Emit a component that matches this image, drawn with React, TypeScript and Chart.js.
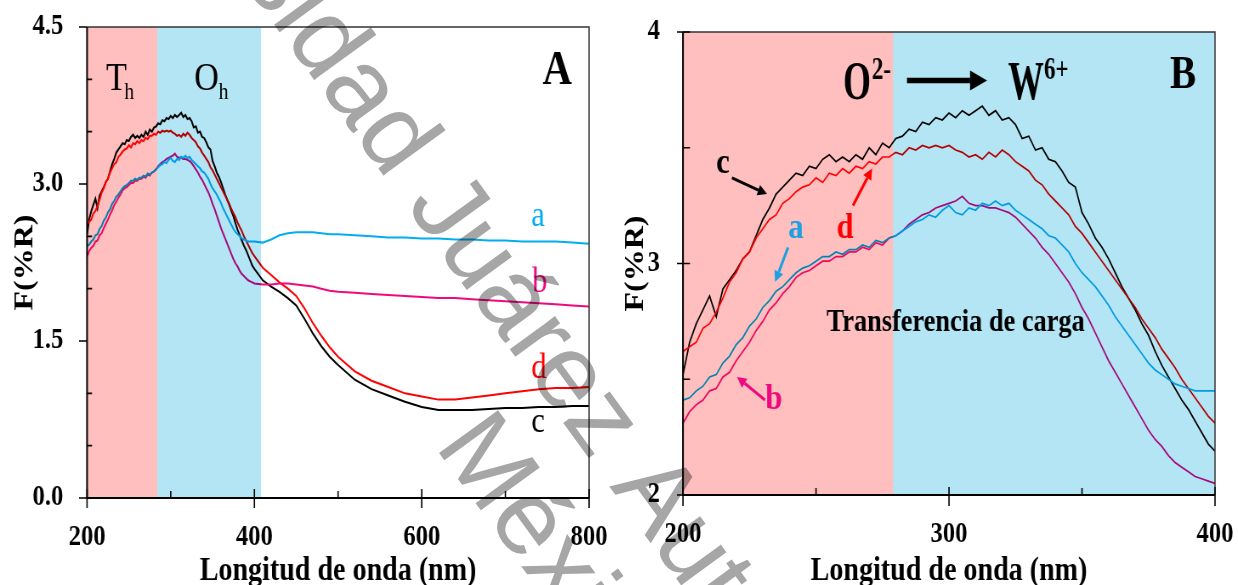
import React, { useEffect, useRef } from 'react';
import { Chart, registerables } from 'chart.js';
Chart.register(...registerables);

const SX = 0.85;
const FONT = "'Liberation Serif', 'Times New Roman', serif";

// ---- data (nm, F(%R)) ----
const wlB = [200,202.5,205,207.5,210,212.5,215,217.5,220,222.5,225,227.5,230,232.5,235,237.5,240,242.5,245,247.5,250,252.5,255,257.5,260,262.5,265,267.5,270,272.5,275,277.5,280,282.5,285,287.5,290,292.5,295,297.5,300,302.5,305,307.5,310,312.5,315,317.5,320,322.5,325,327.5,330,332.5,335,337.5,340,342.5,345,347.5,350,352.5,355,357.5,360,362.5,365,367.5,370,372.5,375,377.5,380,382.5,385,387.5,390,392.5,395,397.5,400];
const aB = [2.41,2.42,2.45,2.47,2.51,2.52,2.57,2.60,2.65,2.68,2.73,2.76,2.81,2.84,2.88,2.90,2.93,2.96,2.98,2.99,3.01,3.03,3.03,3.05,3.04,3.06,3.06,3.08,3.07,3.10,3.09,3.11,3.12,3.14,3.16,3.18,3.19,3.21,3.20,3.23,3.25,3.22,3.21,3.24,3.23,3.26,3.25,3.27,3.25,3.26,3.23,3.21,3.19,3.17,3.15,3.12,3.11,3.08,3.05,3.00,2.96,2.93,2.90,2.86,2.82,2.77,2.73,2.69,2.65,2.61,2.57,2.54,2.52,2.50,2.48,2.47,2.46,2.45,2.45,2.45,2.45];
const bB = [2.31,2.36,2.39,2.41,2.45,2.46,2.51,2.53,2.58,2.62,2.66,2.71,2.75,2.80,2.83,2.87,2.90,2.94,2.96,2.97,2.99,3.01,3.01,3.03,3.03,3.05,3.05,3.07,3.06,3.09,3.08,3.11,3.12,3.14,3.17,3.19,3.21,3.22,3.24,3.25,3.26,3.27,3.29,3.26,3.25,3.25,3.24,3.24,3.23,3.22,3.20,3.17,3.14,3.11,3.07,3.04,3.00,2.96,2.92,2.87,2.81,2.76,2.70,2.64,2.58,2.53,2.48,2.43,2.38,2.33,2.28,2.24,2.21,2.17,2.14,2.12,2.10,2.08,2.07,2.06,2.05];
const cB = [2.52,2.66,2.74,2.80,2.86,2.77,2.89,2.93,2.97,3.02,3.05,3.12,3.19,3.24,3.30,3.33,3.36,3.39,3.38,3.42,3.41,3.45,3.47,3.44,3.46,3.44,3.47,3.45,3.50,3.47,3.52,3.50,3.54,3.55,3.58,3.57,3.61,3.60,3.63,3.62,3.65,3.63,3.66,3.64,3.66,3.68,3.64,3.66,3.62,3.63,3.60,3.54,3.55,3.49,3.50,3.45,3.44,3.40,3.35,3.33,3.22,3.17,3.11,3.07,3.02,2.96,2.90,2.85,2.80,2.74,2.69,2.62,2.56,2.51,2.46,2.41,2.37,2.32,2.27,2.22,2.19];
const dB = [2.62,2.64,2.66,2.72,2.74,2.79,2.85,2.92,2.96,3.02,3.05,3.11,3.15,3.19,3.21,3.26,3.28,3.31,3.33,3.34,3.37,3.35,3.39,3.38,3.41,3.39,3.42,3.41,3.44,3.43,3.46,3.46,3.48,3.47,3.50,3.49,3.51,3.50,3.51,3.50,3.51,3.49,3.48,3.46,3.47,3.45,3.48,3.46,3.49,3.47,3.44,3.42,3.40,3.36,3.34,3.30,3.27,3.24,3.21,3.16,3.13,3.09,3.05,3.01,2.97,2.93,2.89,2.85,2.81,2.76,2.72,2.68,2.63,2.59,2.55,2.50,2.46,2.42,2.38,2.34,2.31];

const wlExt = [410,420,430,440,450,460,470,480,490,500,520,540,560,580,600,620,640,660,680,700,720,740,760,780,800];
const aExt = [2.44,2.47,2.51,2.53,2.54,2.54,2.54,2.53,2.52,2.52,2.51,2.50,2.49,2.49,2.48,2.48,2.47,2.47,2.46,2.46,2.45,2.45,2.45,2.44,2.43];
const bExt = [2.04,2.04,2.05,2.05,2.04,2.03,2.02,2.00,1.98,1.97,1.96,1.95,1.94,1.93,1.92,1.91,1.91,1.90,1.89,1.88,1.87,1.86,1.85,1.84,1.83];
const cExt = [2.08,2.02,1.97,1.91,1.84,1.71,1.57,1.45,1.35,1.27,1.13,1.04,0.98,0.92,0.87,0.84,0.84,0.84,0.85,0.86,0.86,0.87,0.87,0.88,0.88];
const dExt = [2.20,2.13,2.06,2.00,1.93,1.81,1.67,1.55,1.44,1.35,1.21,1.12,1.06,1.00,0.97,0.94,0.94,0.96,0.98,1.00,1.02,1.04,1.05,1.05,1.06];

const xMajorA = [200,400,600,800];
const xMinorA = [300,500,700];
const yMajorA = [0,1.5,3,4.5];
const yMinorA = [0.5,1,2,2.5,3.5,4];
const xMajorB = [200,300,400];
const xMinorB = [250,350];
const yMajorB = [2,3,4];
const yMinorB = [2.5,3.5];

const bandsA = [{ from: 200, to: 284, color: '#FFBFBF' }, { from: 284, to: 408, color: '#B3E5F5' }];
const bandsB = [{ from: 200, to: 279, color: '#FFBFBF' }, { from: 279, to: 400, color: '#B3E5F5' }];

const colA = '#00AEEF';
const colB = '#EE0A7E';
const colC = '#000000';
const colD = '#FF0000';

const xy = (xs: number[], ys: number[]) => xs.map((x, i) => ({ x, y: ys[i] }));

function txt(ctx: CanvasRenderingContext2D, s: string, x: number, y: number, font: string, color: string, align: CanvasTextAlign = 'left', sx = 1) {
  ctx.save();
  ctx.translate(x, y);
  ctx.scale(sx, 1);
  ctx.font = font;
  ctx.fillStyle = color;
  ctx.textAlign = align;
  ctx.textBaseline = 'alphabetic';
  ctx.fillText(s, 0, 0);
  ctx.restore();
}

function arrow(ctx: CanvasRenderingContext2D, x1: number, y1: number, x2: number, y2: number, color: string, lw: number, hl: number, hw: number) {
  const ang = Math.atan2(y2 - y1, x2 - x1);
  const bx = x2 - hl * Math.cos(ang), by = y2 - hl * Math.sin(ang);
  ctx.save();
  ctx.strokeStyle = color; ctx.fillStyle = color; ctx.lineWidth = lw;
  ctx.beginPath(); ctx.moveTo(x1, y1); ctx.lineTo(bx, by); ctx.stroke();
  ctx.beginPath();
  ctx.moveTo(x2, y2);
  ctx.lineTo(bx + hw / 2 * Math.sin(ang), by - hw / 2 * Math.cos(ang));
  ctx.lineTo(bx - hw / 2 * Math.sin(ang), by + hw / 2 * Math.cos(ang));
  ctx.closePath(); ctx.fill();
  ctx.restore();
}

type Panel = {
  bands: { from: number; to: number; color: string }[];
  xMajor: number[]; xMinor: number[]; yMajor: number[]; yMinor: number[];
  yTitleX: number; xTitleY: number;
  tick: { xUp: number; xDown: number; xMinorUp: number; yOut: number; yIn: number; yMinorIn: number };
  annotate: (ctx: CanvasRenderingContext2D, px: (v: number) => number, py: (v: number) => number) => void;
};

function panelPlugin(p: Panel) {
  return {
    id: 'panelDeco',
    afterDatasetsDraw(chart: any) {
      const { ctx, chartArea: ca, scales } = chart;
      ctx.save();
      ctx.globalCompositeOperation = 'multiply';
      for (const b of p.bands) {
        const x1 = scales.x.getPixelForValue(b.from);
        const x2 = scales.x.getPixelForValue(b.to);
        ctx.fillStyle = b.color;
        ctx.fillRect(x1, ca.top, x2 - x1, ca.bottom - ca.top);
      }
      ctx.restore();
    },
    afterDraw(chart: any) {
      const { ctx, chartArea: ca, scales } = chart;
      const px = (v: number) => scales.x.getPixelForValue(v);
      const py = (v: number) => scales.y.getPixelForValue(v);
      ctx.save();
      ctx.strokeStyle = '#333';
      ctx.lineWidth = 1.5;
      ctx.beginPath();
      ctx.moveTo(ca.left, ca.top); ctx.lineTo(ca.right, ca.top); ctx.lineTo(ca.right, ca.bottom);
      ctx.stroke();
      ctx.strokeStyle = '#000';
      ctx.lineWidth = 2;
      ctx.beginPath();
      ctx.moveTo(ca.left, ca.top); ctx.lineTo(ca.left, ca.bottom); ctx.lineTo(ca.right, ca.bottom);
      ctx.stroke();
      ctx.lineWidth = 1.6;
      ctx.beginPath();
      for (const v of p.xMajor) { const x = px(v); ctx.moveTo(x, ca.bottom - p.tick.xUp); ctx.lineTo(x, ca.bottom + p.tick.xDown); }
      for (const v of p.xMinor) { const x = px(v); ctx.moveTo(x, ca.bottom - p.tick.xMinorUp); ctx.lineTo(x, ca.bottom); }
      for (const v of p.yMajor) { const y = py(v); ctx.moveTo(ca.left - p.tick.yOut / SX, y); ctx.lineTo(ca.left + p.tick.yIn / SX, y); }
      for (const v of p.yMinor) { const y = py(v); ctx.moveTo(ca.left, y); ctx.lineTo(ca.left + p.tick.yMinorIn / SX, y); }
      ctx.stroke();
      txt(ctx, 'Longitud de onda (nm)', (ca.left + ca.right) / 2, p.xTitleY, `bold 33px ${FONT}`, '#000', 'center');
      ctx.save();
      ctx.translate(p.yTitleX, (ca.top + ca.bottom) / 2);
      ctx.rotate(-Math.PI / 2);
      ctx.font = `bold 32px ${FONT}`;
      ctx.fillStyle = '#000';
      ctx.textAlign = 'center';
      ctx.textBaseline = 'middle';
      ctx.fillText('F(%R)', 0, 0);
      ctx.restore();
      p.annotate(ctx, px, py);
      ctx.restore();
    },
  };
}

function noPad(s: any) {
  s.paddingTop = 0; s.paddingBottom = 0; s.paddingLeft = 0; s.paddingRight = 0;
}

function baseOptions(xmin: number, xmax: number, ymin: number, ymax: number, xTicks: number[], yTicks: number[], yFmt: (v: number) => string, leftW: number, bottomH: number, padTop: number, padRight: number, yPad: number, xPad: number) {
  const tickFont = { family: FONT, size: 29, weight: 'bold' as const };
  return {
    responsive: false,
    animation: false as const,
    events: [],
    layout: { padding: { top: padTop, right: padRight, left: 0, bottom: 0 }, autoPadding: false },
    plugins: { legend: { display: false }, tooltip: { enabled: false } },
    scales: {
      x: {
        type: 'linear' as const, min: xmin, max: xmax,
        grid: { display: false, drawTicks: false },
        border: { display: false },
        afterBuildTicks: (s: any) => { s.ticks = xTicks.map((v) => ({ value: v })); },
        afterFit: (s: any) => { s.height = bottomH; noPad(s); },
        ticks: { font: tickFont, color: '#000', padding: xPad, maxRotation: 0, autoSkip: false, callback: (v: any) => String(v) },
      },
      y: {
        type: 'linear' as const, min: ymin, max: ymax,
        grid: { display: false, drawTicks: false },
        border: { display: false },
        afterBuildTicks: (s: any) => { s.ticks = yTicks.map((v) => ({ value: v })); },
        afterFit: (s: any) => { s.width = leftW; noPad(s); },
        ticks: { font: tickFont, color: '#000', padding: yPad, autoSkip: false, callback: (v: any) => yFmt(Number(v)) },
      },
    },
  };
}

function ds(label: string, data: { x: number; y: number }[], color: string, w: number) {
  return {
    label, data, borderColor: color, backgroundColor: color, borderWidth: w,
    pointRadius: 0, fill: false, tension: 0,
  };
}

export default function App() {
  const refA = useRef<HTMLCanvasElement>(null);
  const refB = useRef<HTMLCanvasElement>(null);
  const refW = useRef<HTMLCanvasElement>(null);

  useEffect(() => {
    const wlA = wlB.concat(wlExt);
    const aA = aB.concat(aExt);
    const bA = bB.concat(bExt);
    const cA = cB.concat(cExt);
    const dA = dB.concat(dExt);

    const panelA: Panel = {
      bands: bandsA, xMajor: xMajorA, xMinor: xMinorA, yMajor: yMajorA, yMinor: yMinorA,
      yTitleX: 30, xTitleY: 580,
      tick: { xUp: 9, xDown: 10, xMinorUp: 7, yOut: 8, yIn: 0, yMinorIn: 5 },
      annotate: (ctx, px, py) => {
        txt(ctx, 'T', px(222.7), py(3.9), `40px ${FONT}`, '#000');
        ctx.font = `40px ${FONT}`;
        const wT = ctx.measureText('T').width;
        txt(ctx, 'h', px(222.7) + wT - 3, py(3.9) + 9, `23px ${FONT}`, '#000');
        txt(ctx, 'O', px(328), py(3.9), `40px ${FONT}`, '#000');
        ctx.font = `40px ${FONT}`;
        const wO = ctx.measureText('O').width;
        txt(ctx, 'h', px(328) + wO, py(3.9) + 9, `23px ${FONT}`, '#000');
        txt(ctx, 'A', px(762), py(3.96), `bold 48px ${FONT}`, '#000', 'center');
        txt(ctx, 'a', px(739), py(2.6), `36px ${FONT}`, colA, 'center');
        txt(ctx, 'b', px(741), py(1.97), `36px ${FONT}`, colB, 'center');
        txt(ctx, 'd', px(740), py(1.15), `36px ${FONT}`, colD, 'center');
        txt(ctx, 'c', px(739), py(0.63), `36px ${FONT}`, colC, 'center');
      },
    };

    const panelB: Panel = {
      bands: bandsB, xMajor: xMajorB, xMinor: xMinorB, yMajor: yMajorB, yMinor: yMinorB,
      yTitleX: 19, xTitleY: 580,
      tick: { xUp: 8, xDown: 11, xMinorUp: 7, yOut: 6, yIn: 7, yMinorIn: 7 },
      annotate: (ctx, px, py) => {
        const bf = (s: number) => `bold ${s}px ${FONT}`;
        txt(ctx, 'O', px(260.2), py(3.71), bf(54), '#000', 'left', 0.78);
        ctx.font = bf(54);
        const wO = ctx.measureText('O').width * 0.78;
        txt(ctx, '2-', px(260.2) + wO + 1, py(3.71) - 20, bf(32), '#000', 'left', 0.85);
        arrow(ctx, px(284.2), py(3.79), px(314.3), py(3.79), '#000', 5.5, 20, 20);
        txt(ctx, 'W', px(322.2), py(3.71), bf(54), '#000', 'left', 0.78);
        ctx.font = bf(54);
        const wW = ctx.measureText('W').width * 0.78;
        txt(ctx, '6+', px(322.2) + wW, py(3.71) - 20, bf(32), '#000', 'left', 0.85);
        txt(ctx, 'B', px(388), py(3.76), bf(46), '#000', 'center');
        txt(ctx, 'Transferencia de carga', px(302.5), py(2.71), bf(31), '#000', 'center');
        txt(ctx, 'c', px(215), py(3.39), bf(36), colC, 'center');
        arrow(ctx, px(218.4), py(3.37), px(231.6), py(3.30), '#000', 3, 11, 11);
        txt(ctx, 'a', px(242.5), py(3.11), bf(36), '#1BA1E2', 'center');
        arrow(ctx, px(239.5), py(3.07), px(234.6), py(2.92), '#1BA1E2', 3, 11, 11);
        txt(ctx, 'd', px(260.9), py(3.11), bf(36), colD, 'center');
        arrow(ctx, px(263.9), py(3.25), px(271.1), py(3.41), colD, 3, 11, 11);
        txt(ctx, 'b', px(234.2), py(2.37), bf(36), colB, 'center');
        arrow(ctx, px(230.8), py(2.41), px(220.3), py(2.51), colB, 3, 11, 11);
      },
    };

    const chartA = new Chart(refA.current!, {
      type: 'line',
      data: {
        datasets: [
          ds('a', xy(wlA, aA), colA, 2),
          ds('b', xy(wlA, bA), colB, 2),
          ds('d', xy(wlA, dA), colD, 2),
          ds('c', xy(wlA, cA), colC, 2),
        ],
      },
      options: baseOptions(200, 800, 0, 4.5, xMajorA, yMajorA, (v) => v.toFixed(1), 102.4, 87, 27, 36, 28, 22) as any,
      plugins: [panelPlugin(panelA)],
    });

    const chartB = new Chart(refB.current!, {
      type: 'line',
      data: {
        datasets: [
          ds('a', xy(wlB, aB), colA, 1.7),
          ds('b', xy(wlB, bB), colB, 1.7),
          ds('d', xy(wlB, dB), colD, 1.7),
          ds('c', xy(wlB, cB), colC, 1.7),
        ],
      },
      options: baseOptions(200, 400, 2, 4, xMajorB, yMajorB, (v) => String(v), 74.1, 90, 32, 27, 27, 22) as any,
      plugins: [panelPlugin(panelB)],
    });

    const wc = refW.current!;
    const w = wc.getContext('2d')!;
    w.clearRect(0, 0, wc.width, wc.height);
    w.font = "106px 'Liberation Sans', Arial, sans-serif";
    w.fillStyle = '#A6A6A6';
    const ang = (54 * Math.PI) / 180;
    const pre = w.measureText('Universidad ').width;
    w.save(); w.translate(405, 205); w.rotate(ang); w.fillText('Universidad Juárez Autónoma de Tabasco', -pre, 0); w.restore();
    w.save(); w.translate(434, 446); w.rotate(ang); w.fillText('México', 0, 0); w.restore();

    return () => { chartA.destroy(); chartB.destroy(); };
  }, []);

  const wrap = (left: number, width: number): React.CSSProperties => ({
    position: 'absolute', left, top: 0, width, height: 585,
    transform: `scaleX(${SX})`, transformOrigin: '0 0',
  });

  return (
    <div style={{ position: 'absolute', left: 0, top: 0, width: 1238, height: 585, overflow: 'hidden', background: '#fff' }}>
      <div style={wrap(0, 729)}>
        <canvas ref={refA} width={729} height={585} style={{ width: 729, height: 585, display: 'block' }} />
      </div>
      <div style={wrap(620, 727)}>
        <canvas ref={refB} width={727} height={585} style={{ width: 727, height: 585, display: 'block' }} />
      </div>
      <canvas ref={refW} width={1238} height={585} style={{ position: 'absolute', left: 0, top: 0, width: 1238, height: 585, mixBlendMode: 'multiply', pointerEvents: 'none' }} />
    </div>
  );
}
